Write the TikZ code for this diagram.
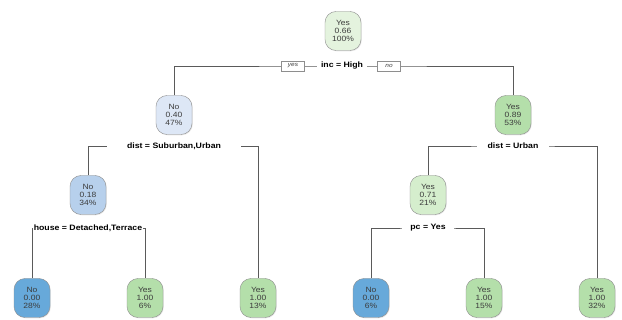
\documentclass[tikz,border=0pt]{standalone}
\usepackage{fontspec}
\setmainfont{Liberation Sans}[FakeStretch=1.12]
\usetikzlibrary{shadows}
\definecolor{nodeline}{HTML}{8E8E8E}
\definecolor{nodetext}{HTML}{3C3C3C}
\definecolor{edgeline}{HTML}{5A5A5A}
\definecolor{bluepale}{HTML}{DDE7F6}
\definecolor{bluemid}{HTML}{B7D0EC}
\definecolor{bluedeep}{HTML}{67A9DA}
\definecolor{greenpale}{HTML}{E4F3DE}
\definecolor{greenmid}{HTML}{D5EECD}
\definecolor{greendeep}{HTML}{B4DFAA}

\begin{document}
\begin{tikzpicture}[x=1pt,y=-1pt]
\tikzstyle{leaf}=[draw=nodeline, rounded corners=11pt, minimum width=36pt, minimum height=39pt, inner xsep=4pt, align=center, text=nodetext, font=\fontsize{7.6}{8.2}\selectfont, drop shadow={opacity=0.18, shadow xshift=0.8pt, shadow yshift=-0.8pt}]
\tikzstyle{split}=[fill=white, font=\bfseries\fontsize{7.8}{8}\selectfont, inner ysep=2pt, inner xsep=6pt]
\tikzstyle{tag}=[draw=nodeline, fill=white, text=nodetext, font=\itshape\fontsize{5.8}{6}\selectfont, minimum width=23pt, minimum height=10pt, inner sep=1pt]
\tikzstyle{edge}=[draw=edgeline, line width=0.6pt]
\fill[white] (0,0) rectangle (622,320);
\useasboundingbox (0,0) rectangle (622,320);
% junctions of the splits
\coordinate (j1) at (342,66);
\coordinate (j2) at (174,146);
\coordinate (j3) at (513,146);
\coordinate (j4) at (88,228);
\coordinate (j7) at (428,228);
% nodes
\draw (343,31) node (n1) [leaf,fill=greenpale] {Yes\\0.66\\100\%};
\draw (174,115) node (n2) [leaf,fill=bluepale] {No\\0.40\\47\%};
\draw (513,115) node (n3) [leaf,fill=greendeep] {Yes\\0.89\\53\%};
\draw (88,195) node (n4) [leaf,fill=bluemid] {No\\0.18\\34\%};
\draw (428,195) node (n7) [leaf,fill=greenmid] {Yes\\0.71\\21\%};
\draw (32,298) node (n8) [leaf,fill=bluedeep] {No\\0.00\\28\%};
\draw (145,298) node (n9) [leaf,fill=greendeep] {Yes\\1.00\\6\%};
\draw (258,298) node (n5) [leaf,fill=greendeep] {Yes\\1.00\\13\%};
\draw (371,298) node (n14) [leaf,fill=bluedeep] {No\\0.00\\6\%};
\draw (484,298) node (n15) [leaf,fill=greendeep] {Yes\\1.00\\15\%};
\draw (597,298) node (n6) [leaf,fill=greendeep] {Yes\\1.00\\32\%};
% branches
\draw[edge] (n2.north) |- (j1) -| (n3.north);
\draw[edge] (n4.north) |- (j2) -| (n5.north);
\draw[edge] (n7.north) |- (j3) -| (n6.north);
\draw[edge] (n8.north) |- (j4) -| (n9.north);
\draw[edge] (n14.north) |- (j7) -| (n15.north);
% split labels
\draw (j1) node (s1) [split,inner xsep=4pt] {inc = High};
\draw (293,66) node (t1) [tag] {yes};
\draw (389,66) node (t2) [tag] {no};
\draw (j2) node (s2) [split,inner xsep=20pt] {dist = Suburban,Urban};
\draw (j3) node (s3) [split,inner xsep=11pt] {dist = Urban};
\draw (j4) node (s4) [split,inner xsep=1pt] {house = Detached,Terrace};
\draw (j7) node (s7) [split,inner xsep=8pt] {pc = Yes};
\end{tikzpicture}
\end{document}
